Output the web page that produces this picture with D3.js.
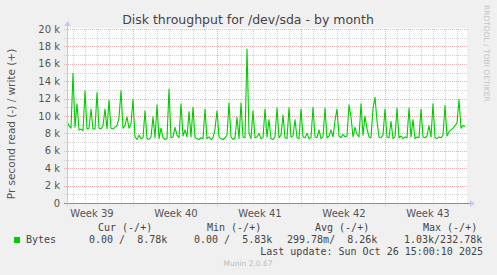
<!DOCTYPE html>
<html><head><meta charset="utf-8">
<script src="https://cdn.jsdelivr.net/npm/d3@7"></script>
<style>
html,body{margin:0;padding:0;background:#f0f0f0;}
svg{display:block;}
text{font-family:"DejaVu Sans",sans-serif;}
.mono{font-family:"DejaVu Sans Mono",monospace;white-space:pre;}
</style></head>
<body><div id="chart"></div>
<script>
// ---- data ----
const title = "Disk throughput for /dev/sda - by month";
const yAxisTitle = "Pr second read (-) / write (+)";
const seriesName = "Bytes";
const dataStart = "2025-09-23T12:00:00Z";
const stepHours = 4;
const viewHours = 800;
const yTicks = [0, 2000, 4000, 6000, 8000, 10000, 12000, 14000, 16000, 18000, 20000];
const yMinor = [1000, 3000, 5000, 7000, 9000, 11000, 13000, 15000, 17000, 19000];
const writeValues = [
 9300, 8900, 8600, 14900, 8700, 11400, 8400, 8500, 8300, 12900,
 8500, 8600, 10800, 8500, 8500, 12700, 8600, 8500, 8900, 10800,
 8500, 11800, 8600, 8500, 8700, 8900, 9800, 12900, 8600, 8900,
 9900, 8600, 9100, 11900, 7600, 7300, 7800, 7400, 7500, 10600,
 7400, 7300, 7600, 9900, 7500, 11300, 7400, 8600, 7500, 7300,
 7400, 13100, 7500, 7600, 8700, 7800, 7500, 11400, 7700, 8400,
 7600, 10500, 7600, 11000, 7500, 7400, 7300, 7500, 7400, 10800,
 7400, 7600, 7300, 7500, 8500, 10600, 7600, 7400, 7300, 7500,
 7800, 11500, 7600, 7300, 7500, 9850, 7400, 11500, 7600, 7500,
 17700, 8000, 7400, 10600, 7500, 7600, 8000, 7400, 7500, 10800,
 7600, 9600, 7400, 7300, 7600, 10950, 7500, 7800, 10100, 7500,
 7400, 10950, 7600, 7700, 9600, 7500, 7400, 10800, 7600, 7500,
 8000, 7400, 7500, 11000, 7600, 7500, 8400, 7400, 7600, 10900,
 7500, 7700, 8400, 7600, 9500, 10800, 7700, 7500, 7900, 7600,
 7700, 11300, 9900, 7600, 8700, 7900, 7600, 11400, 7800, 10000,
 8500, 7600, 7500, 10900, 12150, 9400, 7600, 7500, 7800, 10800,
 7600, 7500, 9400, 7400, 7600, 10900, 7500, 7700, 7400, 7600,
 7500, 10900, 7600, 9600, 7400, 7600, 7500, 10800, 7600, 7500,
 7700, 8900, 7600, 11400, 7500, 7400, 7600, 7500, 7800, 11200,
 7700, 8200, 8400, 8600, 8900, 9200, 11900, 8600, 8900, 8800
];
const legendHeaders = ["Cur (-/+)", "Min (-/+)", "Avg (-/+)", "Max (-/+)"];
const legendValues = ["0.00 /  8.78k", "0.00 /  5.83k", "299.78m/  8.26k", "1.03k/232.78k"];
const lastUpdate = "Last update: Sun Oct 26 15:00:10 2025";
const sideText = "RRDTOOL / TOBI OETIKER";
const footer = "Munin 2.0.67";

// ---- layout ----
const W = 497, H = 275;
const L = 67, R = 467, T = 29, B = 203;
const svg = d3.select("#chart").append("svg").attr("width", W).attr("height", H);
svg.append("rect").attr("width", W).attr("height", H).attr("fill", "#f0f0f0");

const t0 = new Date(dataStart);
const t1 = new Date(t0.getTime() + viewHours * 3600e3);
const x = d3.scaleUtc().domain([t0, t1]).range([L, R]);
const y = d3.scaleLinear().domain([0, 20000]).range([B, T]);
const pts = writeValues.map((v, i) => ({t: new Date(t0.getTime() + i * stepHours * 3600e3), v}));

svg.append("rect").attr("x", L).attr("y", T - 1).attr("width", R - L).attr("height", B - T + 1).attr("fill", "#ffffff");

const g = svg.append("g");
g.selectAll(".hmin").data(yMinor).join("line")
  .attr("x1", L - 3).attr("x2", R).attr("y1", d => Math.round(y(d)) + 0.5).attr("y2", d => Math.round(y(d)) + 0.5)
  .attr("stroke", "#d4d4d4").attr("stroke-dasharray", "1,1");
const days = d3.utcDay.range(d3.utcDay.ceil(t0), t1).filter(d => d.getUTCDay() !== 1);
g.selectAll(".vmin").data(days).join("line")
  .attr("x1", d => Math.round(x(d)) + 0.5).attr("x2", d => Math.round(x(d)) + 0.5)
  .attr("y1", T).attr("y2", B + 3)
  .attr("stroke", "#d4d4d4").attr("stroke-dasharray", "1,1");
g.selectAll(".hmaj").data(yTicks.filter(d => d > 0)).join("line")
  .attr("x1", L - 3).attr("x2", R).attr("y1", d => Math.round(y(d)) + 0.5).attr("y2", d => Math.round(y(d)) + 0.5)
  .attr("stroke", "#eeb0b0").attr("stroke-dasharray", "1,1");
const weeks = d3.utcMonday.range(t0, t1);
g.selectAll(".vmaj").data(weeks).join("line")
  .attr("x1", d => Math.round(x(d)) + 0.5).attr("x2", d => Math.round(x(d)) + 0.5)
  .attr("y1", T).attr("y2", B + 3)
  .attr("stroke", "#eeb0b0").attr("stroke-dasharray", "1,1");

svg.selectAll(".ylab").data(yTicks).join("text")
  .attr("x", 60).attr("y", d => y(d) + 3.5).attr("text-anchor", "end")
  .attr("font-size", 10).attr("fill", "#555")
  .text(d => d === 0 ? "0" : (d / 1000) + " k");

const weekMid = d3.utcMonday.range(d3.utcMonday.floor(t0), t1)
  .map(d => new Date(d.getTime() + 3.5 * 864e5)).filter(d => x(d) > L && x(d) < R);
svg.selectAll(".xlab").data(weekMid).join("text")
  .attr("x", d => x(d) + 1).attr("y", 216.5).attr("text-anchor", "middle")
  .attr("font-size", 10).attr("fill", "#555")
  .text(d => "Week " + +d3.utcFormat("%V")(d));

const line = d3.line().x(d => x(d.t)).y(d => y(d.v));
svg.append("path").datum(pts).attr("d", line).attr("fill", "none")
  .attr("stroke", "#00cc00").attr("stroke-width", 1.1).attr("stroke-linejoin", "round");

svg.append("line").attr("x1", L - 3).attr("x2", R + 4).attr("y1", B + 0.5).attr("y2", B + 0.5).attr("stroke", "#8a8aa8");
svg.append("line").attr("x1", L + 0.5).attr("x2", L + 0.5).attr("y1", B + 3).attr("y2", T - 5).attr("stroke", "#c8c8ee");
svg.append("path").attr("d", `M${R + 3},${B - 3}L${R + 8},${B + 0.5}L${R + 3},${B + 4}Z`).attr("fill", "#c8c8f4");
svg.append("path").attr("d", `M${L - 3},${T - 3}L${L + 0.5},${T - 8}L${L + 4},${T - 3}Z`).attr("fill", "#c8c8f4");

svg.append("text").attr("x", 248).attr("y", 24).attr("text-anchor", "middle")
  .attr("font-size", 12.5).attr("fill", "#444").text(title);
svg.append("text").attr("transform", "translate(15,124) rotate(-90)").attr("text-anchor", "middle")
  .attr("font-size", 10.5).attr("fill", "#555").text(yAxisTitle);
svg.append("text").attr("transform", "translate(484,5) rotate(90)").attr("text-anchor", "start")
  .attr("font-size", 7.5).attr("fill", "#c4c4c4").text(sideText);

const hx = [98, 207, 315, 423];
const vx = [89, 194, 287, 404];
svg.selectAll(".lh").data(legendHeaders).join("text").attr("class", "mono")
  .attr("x", (d, i) => hx[i]).attr("y", 231).attr("font-size", 10).attr("fill", "#444").text(d => d);
svg.append("rect").attr("x", 14).attr("y", 237).attr("width", 6).attr("height", 6).attr("fill", "#00cc00");
svg.append("text").attr("class", "mono").attr("x", 26).attr("y", 243).attr("font-size", 10).attr("fill", "#444").text(seriesName);
svg.selectAll(".lv").data(legendValues).join("text").attr("class", "mono")
  .attr("x", (d, i) => vx[i]).attr("y", 243).attr("font-size", 10).attr("fill", "#444").text(d => d);
svg.append("text").attr("class", "mono").attr("x", 483).attr("y", 255).attr("text-anchor", "end")
  .attr("font-size", 10).attr("fill", "#444").text(lastUpdate);
svg.append("text").attr("x", 248).attr("y", 266).attr("text-anchor", "middle")
  .attr("font-size", 7.5).attr("fill", "#bbbbbb").text(footer);
</script></body></html>
